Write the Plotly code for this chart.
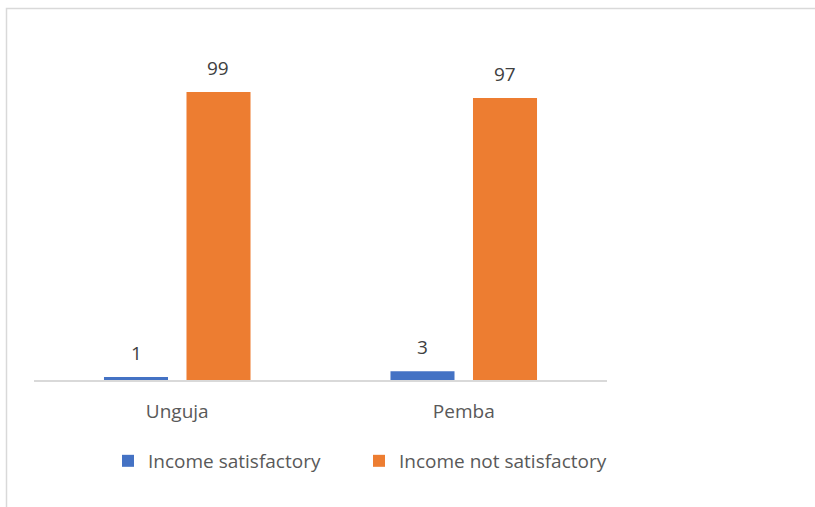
import plotly.graph_objects as go

categories = ["Unguja", "Pemba"]
series_names = ["Income satisfactory", "Income not satisfactory"]
satisfactory = [1, 3]
not_satisfactory = [99, 97]
colors = ["#4472C4", "#ED7D31"]

W, H = 815, 507
L, R, T, B = 34, 208, 31, 127

fig = go.Figure()
for name, vals, col in zip(series_names, [satisfactory, not_satisfactory], colors):
    fig.add_trace(go.Bar(x=categories, y=vals, name=name, marker_color=col,
                         marker_line_width=0))

# data labels above bars
slot_shift = [-41, 41]
for si, vals in enumerate([satisfactory, not_satisfactory]):
    for c, v in zip(categories, vals):
        fig.add_annotation(x=c, y=v, text=str(v), showarrow=False,
                           xshift=slot_shift[si], yshift=24,
                           font=dict(size=19, color="#404040"))

pw = W - L - R
ph = H - T - B
bx = (6.5 - L) / pw
by = (H - B - 8.5) / ph
fig.add_shape(type="rect", xref="paper", yref="paper",
              x0=bx, x1=2, y0=-1, y1=by,
              line=dict(color="#D9D9D9", width=1.5), layer="below")

fig.update_layout(
    width=W, height=H,
    margin=dict(l=L, r=R, t=T, b=B),
    paper_bgcolor="white", plot_bgcolor="white",
    barmode="group", bargap=0.424, bargroupgap=0.224,
    font=dict(family="Open Sans", size=19, color="#595959"),
    showlegend=True,
    legend=dict(orientation="h", x=(108 - L) / pw, xanchor="left", y=-0.232,
                yanchor="middle", font=dict(size=19, color="#595959"),
                itemwidth=30, entrywidth=206, entrywidthmode="pixels"),
    xaxis=dict(showline=True, linecolor="#D9D9D9", linewidth=1.5,
               ticks="", showgrid=False, ticklabelstandoff=13,
               tickfont=dict(size=19, color="#595959")),
    yaxis=dict(range=[0, 120], visible=False, showgrid=False, zeroline=False),
)

fig.write_html("out.html")
